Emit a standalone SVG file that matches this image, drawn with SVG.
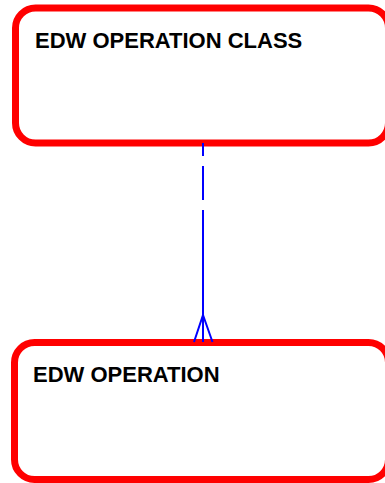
<svg xmlns="http://www.w3.org/2000/svg" width="385" height="483" viewBox="0 0 385 483">
<style>
.box{fill:#ffffff;stroke:#ff0000;stroke-width:7}
.lbl{font-family:"Liberation Sans",Arial,sans-serif;font-weight:bold;font-size:22px;fill:#000000}
.conn{fill:none;stroke:#0000ff;stroke-width:2}
</style>
<rect width="385" height="483" fill="#ffffff"/>
<g id="node-edw-operation-class">
<rect class="box" x="15.5" y="8" width="373" height="135" rx="20" ry="20"/>
<text class="lbl" x="35" y="48">EDW OPERATION CLASS</text>
</g>
<g id="node-edw-operation">
<rect class="box" x="14.5" y="342.5" width="374" height="137" rx="20" ry="20"/>
<text class="lbl" x="33" y="382">EDW OPERATION</text>
</g>
<g id="connectors">
<line class="conn" x1="203" y1="143" x2="203" y2="342" stroke-dasharray="13 10 34 10 1000"/>
<polyline class="conn" points="194,342 203,315 212.5,342"/>
</g>
</svg>
